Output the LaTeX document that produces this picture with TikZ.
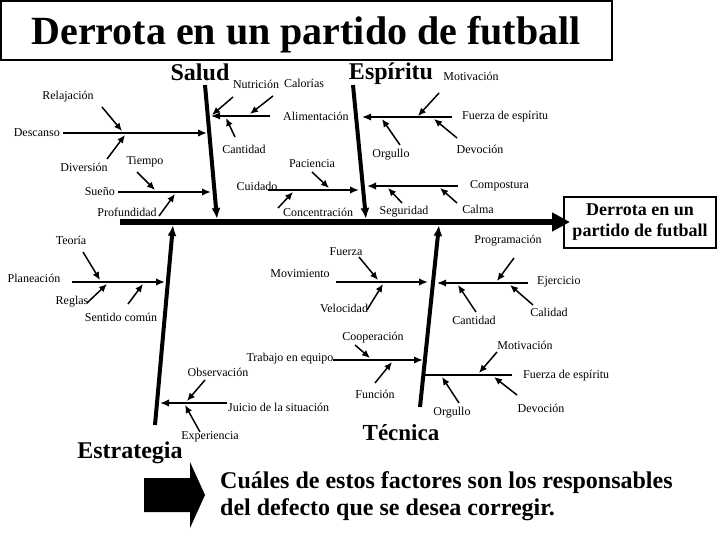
\documentclass[tikz,border=0pt]{standalone}
\usepackage{fontspec}
\setmainfont{Liberation Serif}
\usetikzlibrary{arrows.meta}
\begin{document}
\begin{tikzpicture}[x=1pt,y=-1pt,
  lbl/.style={font=\fontsize{12}{14}\selectfont, inner sep=0pt},
  cat/.style={font=\fontsize{24}{28}\selectfont\bfseries, inner sep=0pt, anchor=base},
  spine/.style={line width=6.5pt, -{Triangle[length=18pt,width=18pt]}},
  bone/.style={line width=4pt, -{Latex[length=11pt,width=9pt]}},
  sthick/.style={line width=2.5pt, -{Latex[length=9pt,width=7.5pt]}},
  smed/.style={line width=2pt, -{Latex[length=9pt,width=7.5pt]}},
  sthin/.style={line width=1.2pt, -{Latex[length=9pt,width=7pt]}},
  splain/.style={line width=1.2pt},
  twig/.style={line width=1.5pt, -{Latex[length=8pt,width=7pt]}}
]
\useasboundingbox (0,0) rectangle (720,540);

% title
\node[draw, line width=1.2pt, minimum width=611pt, minimum height=59pt, inner sep=0pt] (titlebox) at (306.5,30.5) {};
\node[font=\fontsize{40}{44}\selectfont\bfseries, inner sep=0pt, anchor=base] (title) at (306,45) {Derrota en un partido de futball};

% spine and result
\coordinate (spS) at (120,222);
\coordinate (spE) at (570,222);
\node[draw, line width=1.2pt, minimum width=152pt, minimum height=51pt, align=center, inner sep=0pt,
      font=\fontsize{18}{21}\selectfont\bfseries, fill=white] (res) at (640,222.5) {Derrota en un\\partido de futball};
\draw[spine] (spS) -- (spE);

% main bones
\foreach \n/\a/\b in {salud/{205,85}/{217,219}, esp/{353,85}/{366,219}, tec/{420,407}/{439,225}, estr/{155,425}/{173,225}}{
  \coordinate (\n-s) at (\a); \coordinate (\n-e) at (\b);
  \draw[bone] (\n-s) -- (\n-e);
}

% sub-bones
\foreach \n/\a/\b/\s in {
  desc/{63,133}/{207,133}/sthick,
  sueno/{118,192}/{211,192}/sthick,
  alim/{270,116}/{211,116}/sthin,
  fesp/{452,117}/{362,117}/sthin,
  comp/{458,186}/{367,186}/smed,
  cuid/{268,190}/{359,190}/smed,
  movi/{336,282}/{428,282}/sthick,
  ejer/{528,283}/{437,283}/sthin,
  trab/{333,360}/{423,360}/sthick,
  plan/{72,282}/{165,282}/sthick,
  juic/{227,403}/{160,403}/smed,
  fespb/{512,375}/{423,375}/splain}{
  \coordinate (\n-s) at (\a); \coordinate (\n-e) at (\b);
  \draw[\s] (\n-s) -- (\n-e);
}

% twigs
\foreach \n/\a/\b in {
  relaj/{102,107}/{122,131}, diver/{107,159}/{125,135},
  tiem/{137,172}/{155,190}, prof/{159,216}/{175,194},
  nutr/{233,97}/{212,115}, calo/{273,96}/{250,114}, cant/{235,137}/{226,118},
  motiv/{439,93}/{418,116}, orgu/{400,145}/{382,119}, devo/{457,138}/{434,119},
  paci/{312,172}/{329,188}, conc/{278,208}/{293,192},
  segu/{402,203}/{388,188}, calm/{457,203}/{440,188},
  fuer/{359,257}/{378,280}, velo/{367,310}/{383,284},
  prog/{514,258}/{497,281}, cantb/{476,312}/{458,285}, cali/{533,305}/{510,285},
  coop/{355,345}/{370,358}, func/{375,383}/{392,362},
  motivb/{497,352}/{479,373}, orgub/{459,403}/{442,377}, devob/{517,395}/{494,377},
  teor/{83,252}/{100,280}, regl/{87,303}/{107,284}, sent/{128,304}/{143,284},
  obse/{205,380}/{187,401}, expe/{200,432}/{185,405}}{
  \coordinate (\n-s) at (\a); \coordinate (\n-e) at (\b);
  \draw[twig] (\n-s) -- (\n-e);
}

% category labels
\node[cat] (lsalud) at (200,81) {Salud};
\node[cat] (lesp) at (391,80) {Espíritu};
\node[cat] (lestr) at (130,458) {Estrategia};
\node[cat, font=\fontsize{23}{27}\selectfont\bfseries] (ltec) at (401,440) {Técnica};

% labels
\node[lbl] (t1) at (68,97) {Relajación};
\node[lbl, anchor=east] (t2) at (60,133) {Descanso};
\node[lbl] (t3) at (84,167) {Diversión};
\node[lbl] (t4) at (145,162) {Tiempo};
\node[lbl, anchor=east] (t5) at (115,192) {Sueño};
\node[lbl] (t6) at (127,212) {Profundidad};
\node[lbl] (t7) at (256,84) {Nutrición};
\node[lbl] (t8) at (304,83) {Calorías};
\node[lbl, anchor=west] (t9) at (283,116) {Alimentación};
\node[lbl] (t10) at (244,149) {Cantidad};
\node[lbl] (t11) at (471,76) {Motivación};
\node[lbl, anchor=west] (t12) at (462,117) {Fuerza de espíritu};
\node[lbl] (t13) at (391,155) {Orgullo};
\node[lbl] (t14) at (480,149) {Devoción};
\node[lbl] (t15) at (312,164) {Paciencia};
\node[lbl] (t16) at (257,186) {Cuidado};
\node[lbl] (t17) at (318,212) {Concentración};
\node[lbl, anchor=west] (t18) at (470,186) {Compostura};
\node[lbl] (t19) at (404,212) {Seguridad};
\node[lbl] (t20) at (478,209) {Calma};
\node[lbl] (t21) at (71,240) {Teoría};
\node[lbl] (t22) at (34,278) {Planeación};
\node[lbl] (t23) at (72,302) {Reglas};
\node[lbl] (t24) at (121,317) {Sentido común};
\node[lbl] (t25) at (346,252) {Fuerza};
\node[lbl] (t26) at (300,274) {Movimiento};
\node[lbl] (t27) at (344,308) {Velocidad};
\node[lbl] (t28) at (508,241) {Programación};
\node[lbl, anchor=west] (t29) at (537,282) {Ejercicio};
\node[lbl] (t30) at (474,320) {Cantidad};
\node[lbl] (t31) at (549,312) {Calidad};
\node[lbl] (t32) at (373,338) {Cooperación};
\node[lbl] (t33) at (290,359) {Trabajo en equipo};
\node[lbl] (t34) at (375,394) {Función};
\node[lbl] (t35) at (525,345) {Motivación};
\node[lbl, anchor=west] (t36) at (523,376) {Fuerza de espíritu};
\node[lbl] (t37) at (452,413) {Orgullo};
\node[lbl] (t38) at (541,408) {Devoción};
\node[lbl] (t39) at (218,372) {Observación};
\node[lbl, anchor=west] (t40) at (228,407) {Juicio de la situación};
\node[lbl] (t41) at (210,437) {Experiencia};

% bottom block arrow and question
\fill (144,478) -- (190,478) -- (190,462) -- (205,495) -- (190,528) -- (190,512) -- (144,512) -- cycle;
\node[font=\fontsize{24}{27}\selectfont\bfseries, inner sep=0pt, anchor=base west] (q1) at (220,488) {Cuáles de estos factores son los responsables};
\node[font=\fontsize{24}{27}\selectfont\bfseries, inner sep=0pt, anchor=base west] (q2) at (220,515) {del defecto que se desea corregir.};
\end{tikzpicture}
\end{document}
